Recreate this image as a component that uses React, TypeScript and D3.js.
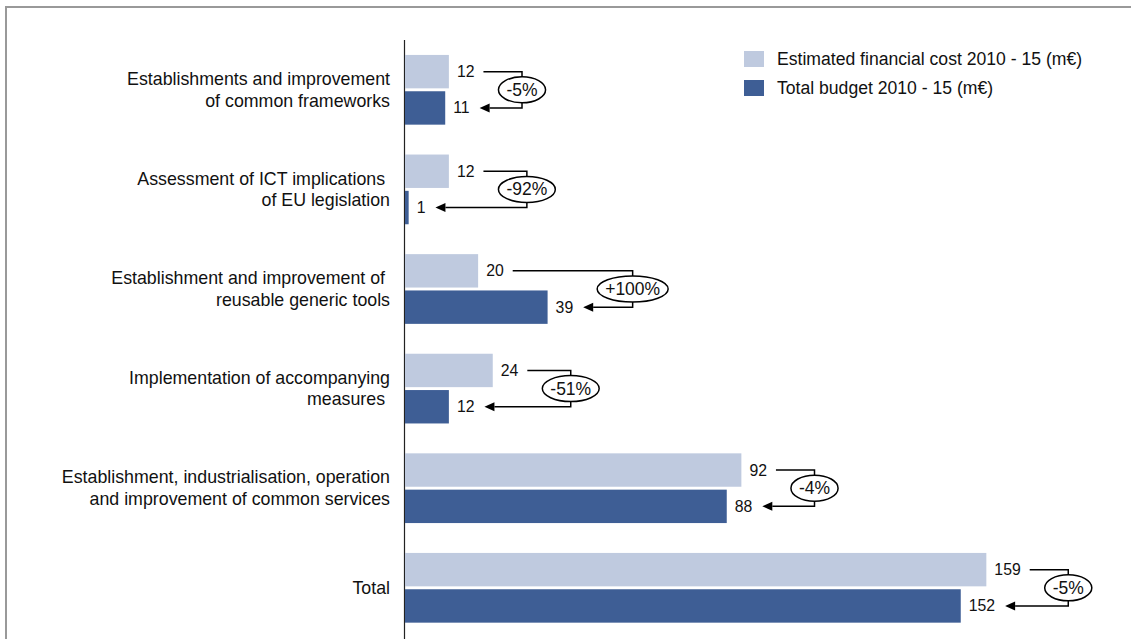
import React from "react";
import * as d3 from "d3";

const categories: string[][] = [
  ["Establishments and improvement", "of common frameworks"],
  ["Assessment of ICT implications ", "of EU legislation"],
  ["Establishment and improvement of ", "reusable generic tools"],
  ["Implementation of accompanying", "measures "],
  ["Establishment, industrialisation, operation", "and improvement of common services"],
  ["Total"],
];
const estimated = [12, 12, 20, 24, 92, 159];
const budget = [11, 1, 39, 12, 88, 152];
const changeLabels = ["-5%", "-92%", "+100%", "-51%", "-4%", "-5%"];
const seriesKeys = ["est", "bud"];
const legendLabels = ["Estimated financial cost 2010 - 15 (m€)", "Total budget 2010 - 15 (m€)"];

const W = 1131;
const H = 639;
const FONT = "'Liberation Sans', Arial, Helvetica, sans-serif";
const LIGHT = "#bfcadf";
const DARK = "#3e5e95";
const CAT_SIZE = 17.8;
const VAL_SIZE = 15.8;
const PCT_SIZE = 17.5;
const LEG_SIZE = 17.6;

let ctx: CanvasRenderingContext2D | null = null;
function textWidth(s: string, size: number): number {
  if (!ctx) ctx = document.createElement("canvas").getContext("2d");
  if (!ctx) return s.length * size * 0.55;
  ctx.font = `${size}px ${FONT}`;
  return ctx.measureText(s).width;
}

export default function App() {
  const x = d3.scaleLinear().domain([0, 160]).range([405, 990]);
  const y = d3
    .scaleBand<number>()
    .domain(d3.range(categories.length))
    .range([40, 637.6])
    .paddingInner(0.3)
    .paddingOuter(0.15);
  const y1 = d3.scaleBand<string>().domain(seriesKeys).range([0, y.bandwidth()]).paddingInner(0.08);
  const bh = y1.bandwidth();

  return (
    <svg
      width={W}
      height={H}
      style={{ position: "absolute", left: 0, top: 0, background: "#fff" }}
      fontFamily={FONT}
    >
      {/* frame */}
      <path d={`M6,${H} L6,7 L${W},7`} fill="none" stroke="#999" strokeWidth={2} />
      {/* axis line */}
      <line x1={404.5} x2={404.5} y1={40} y2={H} stroke="#222" strokeWidth={1.2} />

      {categories.map((lines, i) => {
        const g0 = y(i)!;
        const yL = g0 + y1("est")!;
        const yD = g0 + y1("bud")!;
        const cL = yL + bh / 2;
        const cD = yD + bh / 2;
        const xL = x(estimated[i]);
        const xD = x(budget[i]);
        const tL = String(estimated[i]);
        const tD = String(budget[i]);
        const lStart = xL + 8;
        const dStart = xD + 8;
        const lEnd = lStart + textWidth(tL, VAL_SIZE);
        const dEnd = dStart + textWidth(tD, VAL_SIZE);
        const lab = changeLabels[i];
        const rx = textWidth(lab, PCT_SIZE) / 2 + 8;
        const ry = 13;
        const cx = Math.max(lEnd, dEnd) + 24 + rx;
        const cy = (cL + cD) / 2;
        const center = g0 + y.bandwidth() / 2;
        return (
          <g key={i}>
            <rect x={x(0)} y={yL} width={xL - x(0)} height={bh} fill={LIGHT} />
            <rect x={x(0)} y={yD} width={Math.max(1.5, xD - x(0))} height={bh} fill={DARK} />
            <text x={lStart} y={cL} dominantBaseline="central" fontSize={VAL_SIZE} fill="#111">{tL}</text>
            <text x={dStart} y={cD} dominantBaseline="central" fontSize={VAL_SIZE} fill="#111">{tD}</text>
            <path d={`M${lEnd + 9},${cL} H${cx} V${cD} H${dEnd + 20}`} fill="none" stroke="#000" strokeWidth={1.5} />
            <path d={`M${dEnd + 10},${cD} l10,-4.5 l0,9 Z`} fill="#000" />
            <ellipse cx={cx} cy={cy} rx={rx} ry={ry} fill="#fff" stroke="#000" strokeWidth={1.5} />
            <text x={cx} y={cy} textAnchor="middle" dominantBaseline="central" fontSize={PCT_SIZE} fill="#111">{lab}</text>
            {lines.map((ln, j) => (
              <text
                key={j}
                x={390}
                y={center + (j - (lines.length - 1) / 2) * 21.5}
                textAnchor="end"
                dominantBaseline="central"
                fontSize={CAT_SIZE}
                style={{ whiteSpace: "pre" }}
                fill="#111"
              >
                {ln}
              </text>
            ))}
          </g>
        );
      })}

      {/* legend */}
      {legendLabels.map((l, i) => (
        <g key={l} transform={`translate(744,${51 + i * 29})`}>
          <rect x={0} y={0} width={20} height={16} fill={i === 0 ? LIGHT : DARK} />
          <text x={33} y={8} dominantBaseline="central" fontSize={LEG_SIZE} fill="#111">{l}</text>
        </g>
      ))}
    </svg>
  );
}
